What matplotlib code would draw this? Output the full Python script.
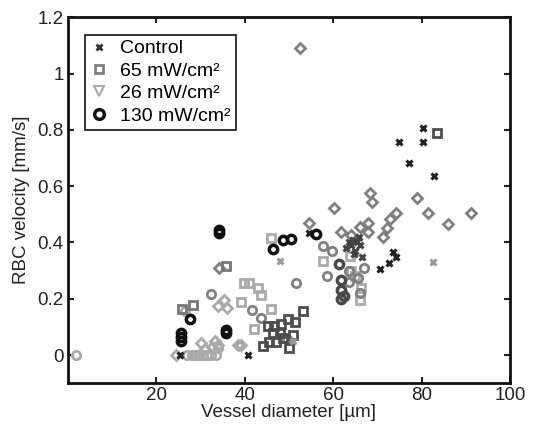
import matplotlib
matplotlib.use('Agg')
import matplotlib.pyplot as plt
from matplotlib.lines import Line2D
import numpy as np

plt.rcParams['font.family'] = ['Liberation Sans', 'DejaVu Sans']

# Control (x markers)
ctrl_dark_x = [80.4, 75.0, 80.3, 77.1, 82.9, 70.6, 72.6, 73.6, 74.3, 40.7, 25.3, 54.5]
ctrl_dark_y = [0.806, 0.756, 0.756, 0.681, 0.637, 0.304, 0.327, 0.366, 0.348, 0.0, 0.0, 0.435]
ctrl_mid_x = [63.5, 64.5, 65.5, 66.0, 65.0, 66.5, 63.0, 64.0, 65.8, 64.8]
ctrl_mid_y = [0.40, 0.41, 0.40, 0.39, 0.37, 0.35, 0.38, 0.39, 0.42, 0.36]
ctrl_light_x = [82.7, 47.9, 50.9]
ctrl_light_y = [0.331, 0.333, 0.05]

# 65 mW/cm2 (squares)
sq_dark_x = [45.2, 46.7, 48.2, 49.8, 51.3, 53.2, 44.1, 45.6, 47.1, 48.6, 50.1, 50.9, 46.4, 47.9, 83.4]
sq_dark_y = [0.104, 0.104, 0.110, 0.127, 0.119, 0.157, 0.032, 0.048, 0.048, 0.060, 0.024, 0.071, 0.077, 0.080, 0.789]
sq_mid_x = [25.8, 28.4, 35.8]
sq_mid_y = [0.164, 0.179, 0.318]
sq_light_x = [39.9, 41.0, 43.0, 43.7, 39.2, 42.2, 46.0, 46.0, 57.7, 63.8, 64.1, 66.4, 66.0, 65.0]
sq_light_y = [0.256, 0.256, 0.238, 0.214, 0.187, 0.093, 0.164, 0.417, 0.333, 0.351, 0.297, 0.238, 0.196, 0.28]

# diamonds
dia_mid_x = [52.5, 68.3, 68.8, 79.0, 81.5, 85.9, 91.1, 60.2, 61.7, 64.0, 66.0, 67.8, 67.9,
             71.3, 72.1, 72.8, 74.3, 54.5, 34.2]
dia_mid_y = [1.09, 0.575, 0.544, 0.557, 0.504, 0.464, 0.506, 0.521, 0.437, 0.425, 0.456, 0.470, 0.437,
             0.420, 0.452, 0.485, 0.506, 0.470, 0.310]
dia_light_x = [34.0, 35.4, 36.0, 24.4, 30.1, 32.7, 34.0, 38.6, 31.0, 33.2, 39.2]
dia_light_y = [0.175, 0.196, 0.167, 0.0, 0.042, 0.030, 0.036, 0.037, 0.02, 0.05, 0.036]

# 130 mW/cm2 (circles)
circ_black_x = [48.6, 50.4, 56.2, 46.4, 27.6, 25.7, 25.7, 25.7, 35.8, 35.8, 34.2, 34.2]
circ_black_y = [0.408, 0.413, 0.429, 0.375, 0.128, 0.05, 0.065, 0.08, 0.078, 0.088, 0.435, 0.445]
circ_dark_x = [61.3, 61.7, 61.9, 62.5, 61.7]
circ_dark_y = [0.325, 0.265, 0.23, 0.208, 0.20]
circ_mid_x = [57.7, 59.8, 58.6, 51.6, 63.6, 65.7, 63.7, 66.0, 67.0, 41.7, 43.6, 32.5, 49.6]
circ_mid_y = [0.387, 0.371, 0.28, 0.255, 0.298, 0.274, 0.258, 0.222, 0.31, 0.16, 0.131, 0.218, 0.056]
circ_light_x = [1.9, 27.0, 28.0, 29.0, 29.7, 30.5, 31.5, 32.5, 33.5, 33.9, 26.5]
circ_light_y = [0.0, 0.0, 0.0, 0.0, 0.0, 0.0, 0.0, 0.0, 0.0, 0.024, 0.155]

fig = plt.figure(figsize=(5.46, 4.32), dpi=100)
ax = fig.add_axes([0.124, 0.113, 0.810, 0.847])

def pts(x, y, marker, color, size, mew=2.0):
    ax.plot(x, y, linestyle='none', marker=marker, markersize=size,
            markerfacecolor='none', markeredgecolor=color, markeredgewidth=mew)

pts(dia_light_x, dia_light_y, 'D', '#aaaaaa', 5.5)
pts(circ_light_x, circ_light_y, 'o', '#aaaaaa', 6)
pts(sq_light_x, sq_light_y, 's', '#aaaaaa', 5.5)
pts(dia_mid_x, dia_mid_y, 'D', '#808080', 5.5)
pts(circ_mid_x, circ_mid_y, 'o', '#808080', 6)
pts(sq_mid_x, sq_mid_y, 's', '#777777', 5.5)
pts(circ_dark_x, circ_dark_y, 'o', '#4a4a4a', 6, 2.5)
pts(sq_dark_x, sq_dark_y, 's', '#4d4d4d', 5.5)
pts(ctrl_light_x, ctrl_light_y, 'x', '#999999', 4.5, 2.2)
pts(ctrl_mid_x, ctrl_mid_y, 'x', '#444444', 4.5, 2.2)
pts(ctrl_dark_x, ctrl_dark_y, 'x', '#222222', 4.5, 2.2)
pts(circ_black_x, circ_black_y, 'o', '#111111', 6, 2.5)

ax.set_xlim(0, 100)
ax.set_ylim(-0.1, 1.2)
ax.set_xticks([20, 40, 60, 80, 100])
ax.set_yticks([0, 0.2, 0.4, 0.6, 0.8, 1.0, 1.2])
ax.set_yticklabels(['0', '0.2', '0.4', '0.6', '0.8', '1', '1.2'])
ax.tick_params(direction='in', top=True, right=True, labelsize=13.5, length=4, width=1.5,
               colors='#222222', pad=3)
for s in ax.spines.values():
    s.set_linewidth(2)
    s.set_color('#111111')
ax.set_xlabel('Vessel diameter [µm]', fontsize=13.5, labelpad=0, color='#222222')
ax.set_ylabel('RBC velocity [mm/s]', fontsize=13.5, labelpad=5, color='#222222')

handles = [
    Line2D([], [], linestyle='none', marker='x', markersize=4, markeredgewidth=2, color='#333333'),
    Line2D([], [], linestyle='none', marker='s', markersize=6, markeredgewidth=2, markerfacecolor='none', markeredgecolor='#808080'),
    Line2D([], [], linestyle='none', marker='v', markersize=7, markeredgewidth=1.5, markerfacecolor='none', markeredgecolor='#aaaaaa'),
    Line2D([], [], linestyle='none', marker='o', markersize=7, markeredgewidth=2.5, markerfacecolor='none', markeredgecolor='#111111'),
]
labels = ['Control', '65 mW/cm²', '26 mW/cm²', '130 mW/cm²']
leg = ax.legend(handles, labels, loc='upper left', bbox_to_anchor=(0.038, 0.952),
                fontsize=14, fancybox=False, framealpha=1, edgecolor='#111111',
                handlelength=1.0, handletextpad=0.6, borderpad=0.25, labelspacing=0.25,
                borderaxespad=0)
leg.get_frame().set_linewidth(1.2)

fig.savefig('out.png', dpi=100)
